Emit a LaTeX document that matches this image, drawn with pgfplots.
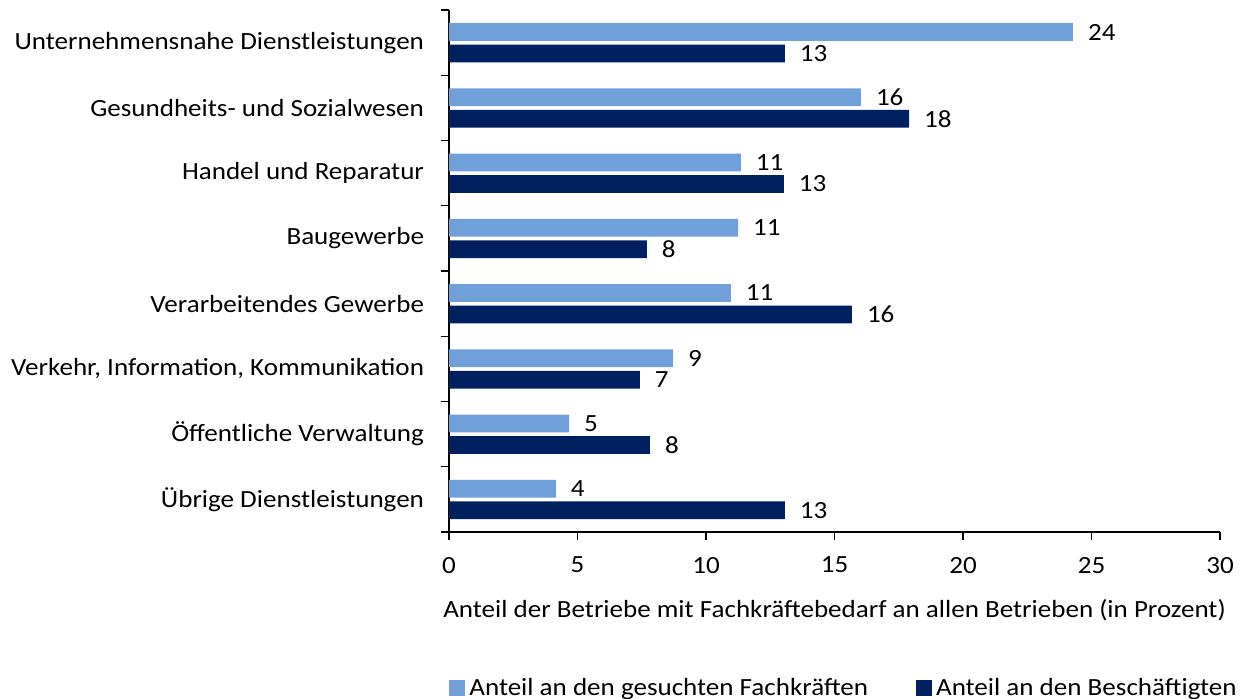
\documentclass[border=0pt]{standalone}
\usepackage{pgfplots}
\pgfplotsset{compat=1.18}
\usepackage{fontspec}
\setmainfont{Carlito}[FakeStretch=1.095]
\definecolor{lightb}{RGB}{111,160,218}
\definecolor{darkb}{RGB}{0,32,96}
\newcommand{\fs}{\fontsize{12.4}{14}\selectfont}
\begin{document}
\begin{tikzpicture}
\path[use as bounding box] (-224.5bp,-83.5bp) rectangle (397.5bp,266bp);
\begin{axis}[
  at={(0,0)}, anchor=south west,
  scale only axis,
  width=385.5bp, height=261bp,
  xmin=0, xmax=30,
  ymin=-0.5, ymax=7.5,
  y dir=reverse,
  xtick={0,5,...,30},
  ytick={0,...,7},
  yticklabels={Unternehmensnahe Dienstleistungen,Gesundheits- und Sozialwesen,Handel und Reparatur,Baugewerbe,Verarbeitendes Gewerbe,{Verkehr, Information, Kommunikation},Öffentliche Verwaltung,Übrige Dienstleistungen},
  minor ytick={-0.5,0.5,...,7.5},
  major tick length=0pt,
  minor tick length=4bp,
  xtick style={draw=black},
  extra x ticks={0,5,...,30},
  extra x tick labels={},
  extra x tick style={major tick length=4bp, tick align=outside},
  tick align=outside,
  axis x line*=bottom,
  axis y line*=left,
  axis line style={black, line width=0.6pt},
  every tick/.style={black, line width=0.6pt},
  tick label style={font=\fs},
  /pgf/number format/assume math mode=true,
  yticklabel style={xshift=-9bp},
  xticklabel style={yshift=-9bp},
  xlabel={Anteil der Betriebe mit Fachkräftebedarf an allen Betrieben (in Prozent)},
  xlabel style={font=\fs, yshift=-2bp},
  xbar, bar width=0.27,
  nodes near coords,
  nodes near coords style={font=\fs, anchor=west, xshift=4bp, /pgf/number format/.cd, fixed, precision=0},
  point meta=x,
  legend style={at={(rel axis cs:0,-0.299)}, anchor=west, draw=none, inner sep=0pt, font=\fs, legend columns=2,
    /tikz/every even column/.append style={column sep=22bp}},
  legend cell align=left,
]
\addplot[fill=lightb, draw=none, bar shift=-0.163,
  legend image code/.code={\fill[lightb] (0bp,-4bp) rectangle (8bp,4bp);}]
  coordinates {(24.28,0) (16.03,1) (11.36,2) (11.25,3) (10.97,4) (8.72,5) (4.67,6) (4.16,7)};
\addlegendentry{Anteil an den gesuchten Fachkräften}
\addplot[fill=darkb, draw=none, bar shift=0.167,
  legend image code/.code={\fill[darkb] (0bp,-4bp) rectangle (8bp,4bp);}]
  coordinates {(13.07,0) (17.9,1) (13.03,2) (7.7,3) (15.68,4) (7.43,5) (7.82,6) (13.07,7)};
\addlegendentry{Anteil an den Beschäftigten}
\end{axis}
\end{tikzpicture}
\end{document}
